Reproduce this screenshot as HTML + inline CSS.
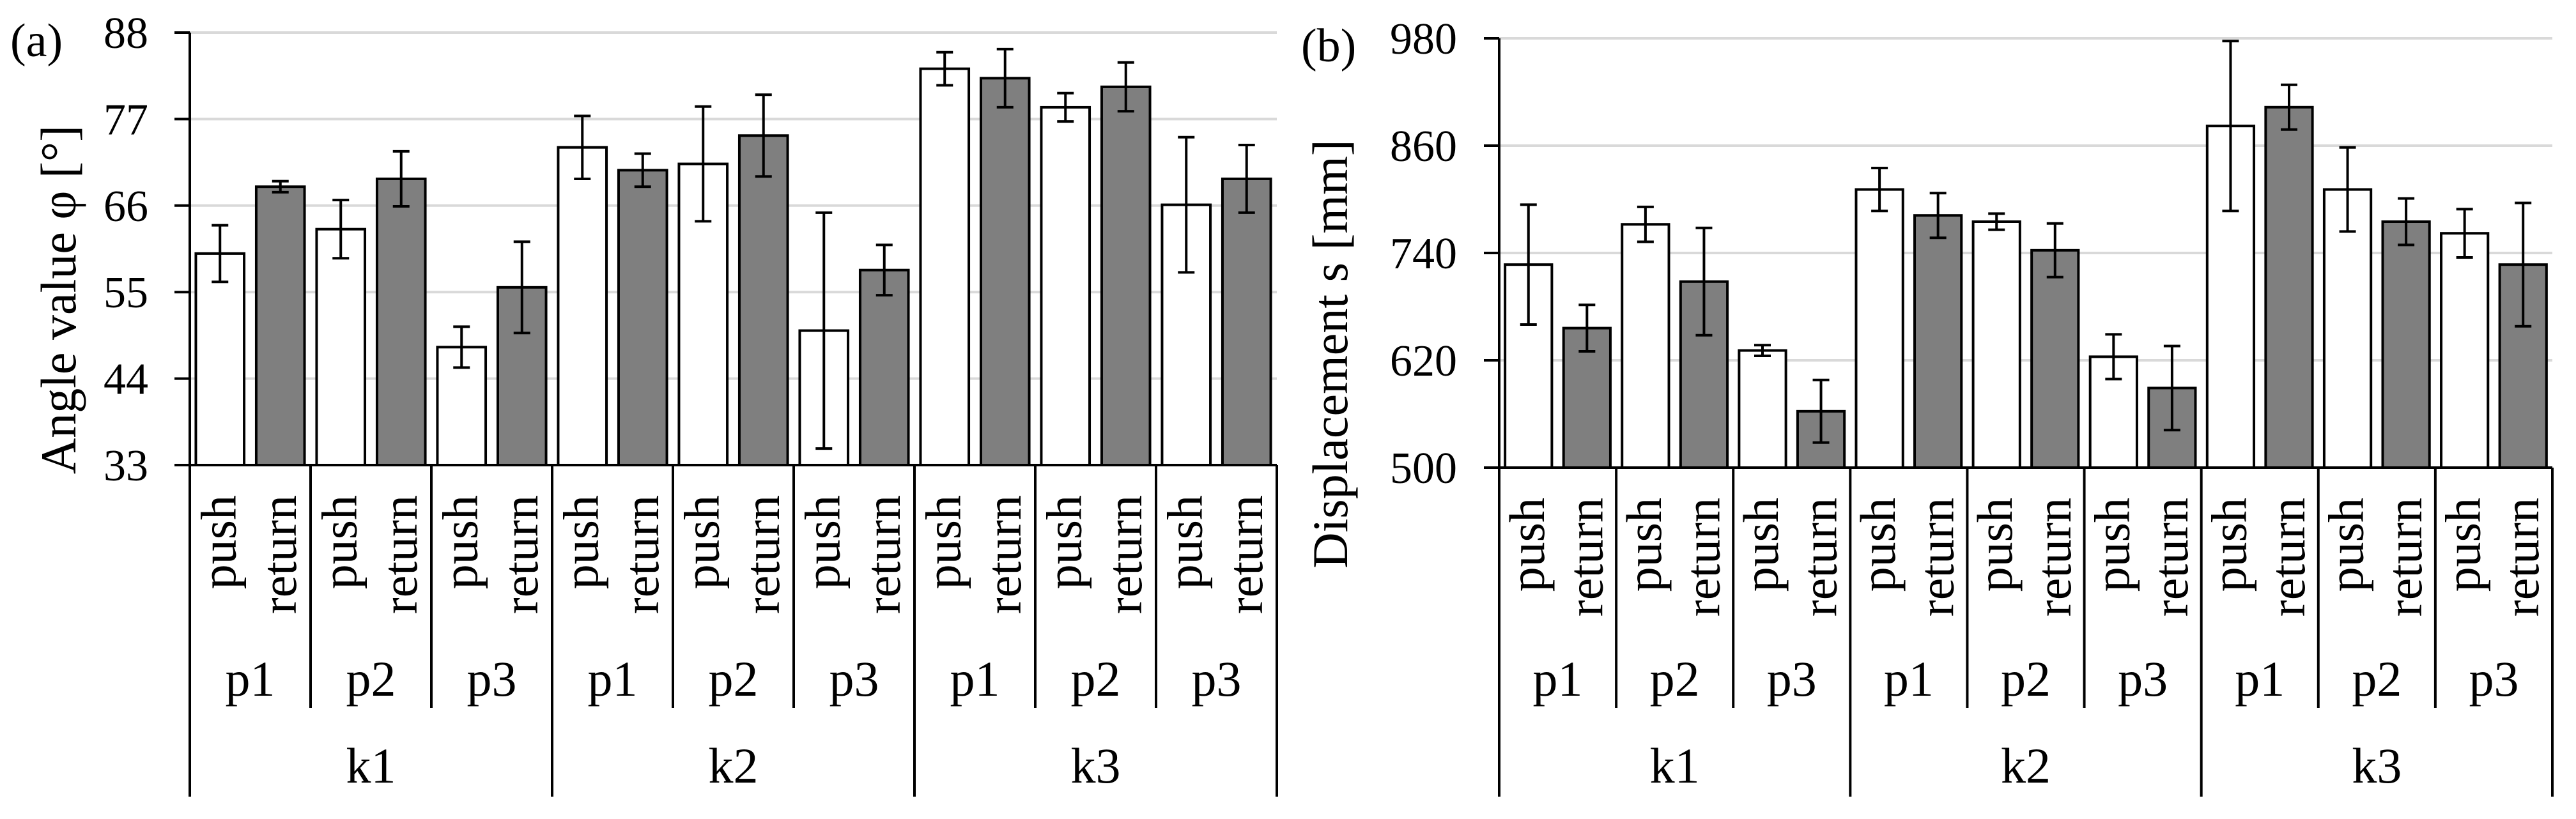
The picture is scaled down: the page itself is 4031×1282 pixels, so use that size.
<!DOCTYPE html>
<html><head><meta charset="utf-8"><style>
html,body{margin:0;padding:0;background:#fff}
</style></head><body>
<svg id="fig" width="4031" height="1277" viewBox="0 0 4031 1277" xmlns="http://www.w3.org/2000/svg" font-family="'Liberation Serif', 'DejaVu Serif', serif"></svg>
<script>
const kLabels = ["k1","k2","k3"];
const pLabels = ["p1","p2","p3"];
const seriesNames = ["push","return"];
// chart (a) angle values
const angleTicks = [33,44,55,66,77,88];
const anglePush = [59.9,63.0,48.0,73.4,71.3,50.1,83.4,78.5,66.1];
const anglePushErr = [3.6,3.7,2.6,4.0,7.3,15.0,2.1,1.8,8.6];
const angleReturn = [68.4,69.4,55.6,70.5,74.9,57.8,82.2,81.1,69.4];
const angleReturnErr = [0.7,3.5,5.8,2.1,5.2,3.2,3.7,3.1,4.3];
// chart (b) displacement values
const dispTicks = [500,620,740,860,980];
const dispPush = [727,772,631,811,775,624,882,811,762];
const dispPushErr = [67,19.5,6,24,9,25,95,47,27];
const dispReturn = [656,708,563,782,743,589,903,775,727];
const dispReturnErr = [26,60,35,25,30,47,25,26,69];

const NS="http://www.w3.org/2000/svg";
const svg=document.getElementById('fig');
const FONT="'Liberation Serif', 'DejaVu Serif', serif";
function mk(tag,attrs,parent){const e=document.createElementNS(NS,tag);for(const k in attrs)e.setAttribute(k,attrs[k]);if(tag==='text'){e.setAttribute('font-family',FONT);e.style.fontFamily=FONT;e.setAttribute('fill','#000');}(parent||svg).appendChild(e);return e;}

function drawChart(cfg){
  const g=mk('g',{});
  
  
  const x0=cfg.x0,x1=cfg.x1,yTop=cfg.yTop,yBase=cfg.yBase;
  const tmin=cfg.ticks[0],tmax=cfg.ticks[cfg.ticks.length-1];
  const y=v=>yBase-(v-tmin)/(tmax-tmin)*(yBase-yTop);
  const nG=cfg.push.length, gw=(x1-x0)/nG, slot=gw/2, bw=slot*0.8;
  cfg.ticks.forEach(t=>{
    if(t!==tmin){const gl=mk('line',{x1:x0,x2:x1,y1:y(t),y2:y(t),stroke:'#d9d9d9','stroke-width':4},g);
      }
    const tk=mk('line',{x1:x0-24,x2:x0,y1:y(t),y2:y(t),stroke:'#000','stroke-width':4},g);
    
    const tl=mk('text',{x:cfg.tickRight,y:y(t)+24,'text-anchor':'end','font-size':70},g);
    tl.textContent=t;
    
  });
  const series=[[cfg.push,cfg.pushErr,'#ffffff'],[cfg.ret,cfg.retErr,'#7f7f7f']];
  for(let i=0;i<nG;i++){
    series.forEach((s,j)=>{
      const cx=x0+i*gw+slot*j+slot/2;
      const v=s[0][i],e=s[1][i];
      const r=mk('rect',{x:cx-bw/2,y:y(v),width:bw,height:yBase-y(v),fill:s[2],stroke:'#000','stroke-width':4},g);
      
      const eb=mk('path',{d:`M${cx},${y(v+e)}V${y(v-e)}M${cx-13},${y(v+e)}H${cx+13}M${cx-13},${y(v-e)}H${cx+13}`,stroke:'#000','stroke-width':4,fill:'none'},g);
      
      const tx=cx+24, ty=cfg.yBase+47;
      const ct=mk('text',{x:tx,y:ty,'text-anchor':'end','font-size':78,transform:`rotate(-90 ${tx} ${ty})`},g);
      ct.textContent=seriesNames[j];
      
    });
    const pt=mk('text',{x:x0+i*gw+gw/2,y:cfg.pLabelY+27,'text-anchor':'middle','font-size':78},g);
    pt.textContent=pLabels[i%3];
    
  }
  for(let i=0;i<=nG;i++){
    const xx=x0+i*gw; const long=(i%3===0);
    const sl=mk('line',{x1:xx,x2:xx,y1:yBase,y2:long?cfg.kEnd:cfg.pEnd,stroke:'#000','stroke-width':4},g);
    
  }
  kLabels.forEach((k,i)=>{
    const kt=mk('text',{x:x0+(i*3+1.5)*gw,y:cfg.kLabelY+27,'text-anchor':'middle','font-size':78},g);
    kt.textContent=k;
    
  });
  const ax=mk('line',{x1:x0,x2:x0,y1:yTop,y2:yBase,stroke:'#000','stroke-width':4},g);
  
  const bx=mk('line',{x1:x0-24,x2:x1,y1:yBase,y2:yBase,stroke:'#000','stroke-width':4},g);
  
  const tt=mk('text',{x:cfg.titleX,y:cfg.titleY,'text-anchor':'middle','font-size':78,transform:`rotate(-90 ${cfg.titleX} ${cfg.titleY})`},g);
  tt.textContent=cfg.title;
  
  const pl=mk('text',{x:cfg.panelX,y:cfg.panelY,'font-size':74},g);
  pl.textContent=cfg.panel;
  
}

drawChart({name:'chart-a',x0:297,x1:1998,yTop:51,yBase:728,ticks:angleTicks,
  push:anglePush,pushErr:anglePushErr,ret:angleReturn,retErr:angleReturnErr,
  tickRight:232,pEnd:1108,kEnd:1247,pLabelY:1062,kLabelY:1198,
  title:'Angle value φ [°]',titleX:118,titleY:469,panel:'(a)',panelX:16,panelY:88});
drawChart({name:'chart-b',x0:2346,x1:3994,yTop:60,yBase:732,ticks:dispTicks,
  push:dispPush,pushErr:dispPushErr,ret:dispReturn,retErr:dispReturnErr,
  tickRight:2280,pEnd:1108,kEnd:1247,pLabelY:1062,kLabelY:1198,
  title:'Displacement s [mm]',titleX:2108,titleY:554,panel:'(b)',panelX:2036,panelY:96});
</script>
</body></html>
